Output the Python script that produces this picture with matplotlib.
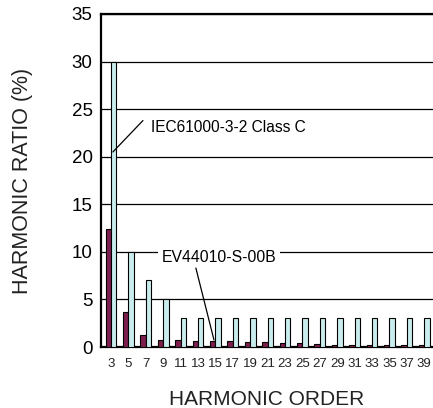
import matplotlib
matplotlib.use("Agg")
import matplotlib.pyplot as plt
import numpy as np

plt.rcParams["font.family"] = ["Liberation Sans", "DejaVu Sans"]

orders = [3, 5, 7, 9, 11, 13, 15, 17, 19, 21, 23, 25, 27, 29, 31, 33, 35, 37, 39]
ev44010 = [12.4, 3.7, 1.3, 0.7, 0.7, 0.6, 0.6, 0.6, 0.5, 0.5, 0.4, 0.4, 0.3,
           0.2, 0.2, 0.2, 0.2, 0.2, 0.2]
iec_class_c = [30, 10, 7, 5, 3, 3, 3, 3, 3, 3, 3, 3, 3, 3, 3, 3, 3, 3, 3]

MAROON = "#7d1f4e"
CYAN = "#c9ecec"

fig = plt.figure(figsize=(4.33, 4.08), dpi=100)
ax = fig.add_axes([0.233, 0.1495, 0.767, 0.8162])

x = np.arange(len(orders))
w = 0.31
ax.bar(x - w / 2, ev44010, w, color=MAROON, edgecolor="black", linewidth=0.8, zorder=3)
ax.bar(x + w / 2, iec_class_c, w, color=CYAN, edgecolor="black", linewidth=0.8, zorder=3)

ax.set_xlim(-0.575, 18.5)
ax.set_ylim(0, 35)
ax.set_yticks(range(0, 36, 5))
ax.set_xticks(x)
ax.set_xticklabels([str(o) for o in orders], fontsize=9.5, color="#222222")
ax.tick_params(axis="y", labelsize=13.5, length=0, pad=6)
ax.tick_params(axis="x", length=0, pad=8)
ax.yaxis.grid(True, color="black", lw=0.9, zorder=0)

for side in ["left", "bottom", "top"]:
    ax.spines[side].set_linewidth(1.6)
ax.spines["right"].set_visible(False)

ax.set_xlabel("HARMONIC ORDER", fontsize=15, labelpad=14, color="#222222")
ax.set_ylabel("HARMONIC RATIO (%)", fontsize=15.5, labelpad=28, color="#222222")

bbox = dict(facecolor="white", edgecolor="none", pad=2.5)
line = dict(arrowstyle="-", color="black", lw=0.9, shrinkA=0, shrinkB=0)

# IEC label and its leader line
ax.text(2.32, 23.1, "IEC61000-3-2 Class C", fontsize=11.2, va="center", ha="left",
        bbox=bbox, zorder=5)
ax.annotate("", xy=(0.115, 20.5), xytext=(1.84, 23.8), arrowprops=line, zorder=5)

# EV44010 label and its leader line
ax.text(2.93, 9.36, "EV44010-S-00B", fontsize=11.3, va="center", ha="left",
        bbox=bbox, zorder=5)
ax.annotate("", xy=(5.92, 0.74), xytext=(4.88, 8.3), arrowprops=line, zorder=5)

fig.savefig("out.png", dpi=100)
